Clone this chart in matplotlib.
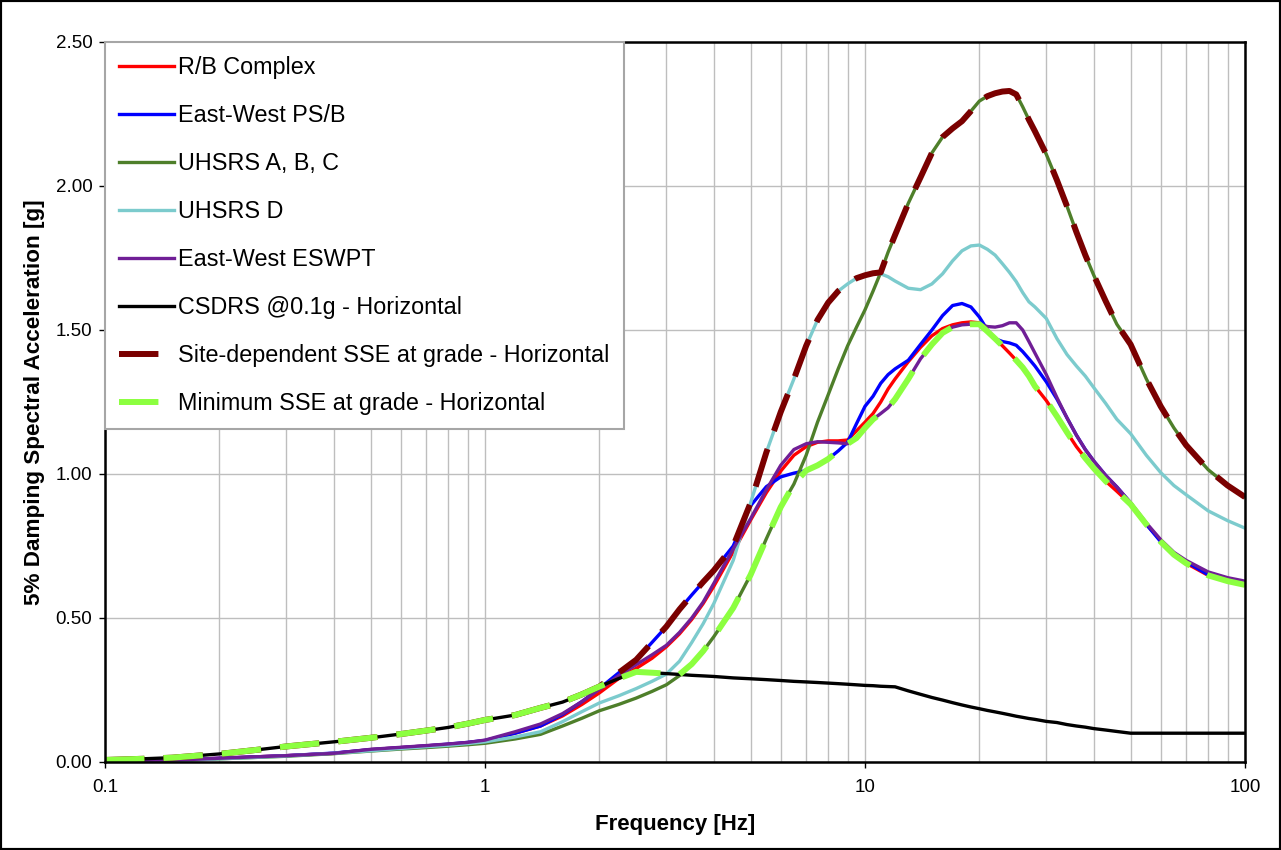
import matplotlib
matplotlib.use('Agg')
import matplotlib.pyplot as plt
from matplotlib.ticker import FixedLocator, NullFormatter, FixedFormatter
from matplotlib.patches import Rectangle

plt.rcParams['font.family'] = ['Liberation Sans', 'DejaVu Sans']

# frequency grid shared by every spectrum [Hz]
freq = [0.1, 0.125, 0.15, 0.2, 0.25, 0.3, 0.4, 0.5, 0.6, 0.7, 0.8, 0.9, 1.0,
        1.2, 1.4, 1.6, 1.8, 2.0,
        2.25, 2.5, 2.75, 3.0, 3.25, 3.5, 3.75, 4.0,
        4.5, 5.0, 5.5, 6.0, 6.5, 7.0, 7.5, 8.0, 8.5, 9.0, 9.5,
        10, 10.5, 11, 11.5, 12,
        13, 14, 15, 16, 17, 18, 19, 20, 21, 22, 23, 24, 25, 26, 27, 28,
        30, 32, 34, 36, 38, 40,
        43, 46, 50, 55, 60, 65, 70, 80, 90, 100]

rb_complex = [0.0, 0.003, 0.006, 0.013, 0.018, 0.022, 0.030, 0.043, 0.050, 0.056, 0.061, 0.067, 0.074,
              0.100, 0.125, 0.160, 0.200, 0.240,
              0.290, 0.325, 0.360, 0.400, 0.445, 0.495, 0.550, 0.610,
              0.730, 0.840, 0.935, 1.010, 1.065, 1.095, 1.110, 1.115, 1.115, 1.118, 1.150,
              1.180, 1.210, 1.250, 1.295, 1.330,
              1.390, 1.440, 1.480, 1.505, 1.518, 1.525, 1.528, 1.525, 1.495, 1.470, 1.445, 1.420, 1.395, 1.370, 1.340, 1.305,
              1.255, 1.200, 1.145, 1.095, 1.055, 1.020,
              0.975, 0.940, 0.895, 0.825, 0.770, 0.725, 0.690, 0.648, 0.628, 0.615]

ew_psb = [0.0, 0.003, 0.006, 0.013, 0.018, 0.022, 0.031, 0.043, 0.050, 0.056, 0.062, 0.068, 0.075,
          0.100, 0.125, 0.165, 0.210, 0.255,
          0.310, 0.355, 0.415, 0.470, 0.530, 0.580, 0.625, 0.665,
          0.750, 0.890, 0.956, 0.990, 1.003, 1.012, 1.030, 1.052, 1.080, 1.110, 1.175,
          1.235, 1.270, 1.315, 1.345, 1.365,
          1.395, 1.450, 1.500, 1.550, 1.585, 1.592, 1.580, 1.545, 1.500, 1.470, 1.460, 1.455, 1.447, 1.425, 1.400, 1.375,
          1.320, 1.260, 1.195, 1.135, 1.085, 1.045,
          0.995, 0.955, 0.900, 0.825, 0.765, 0.720, 0.695, 0.650, 0.632, 0.620]

uhsrs_abc = [0.0, 0.002, 0.004, 0.011, 0.016, 0.020, 0.029, 0.038, 0.045, 0.050, 0.055, 0.060, 0.065,
             0.080, 0.096, 0.125, 0.152, 0.178,
             0.200, 0.222, 0.245, 0.268, 0.300, 0.340, 0.385, 0.435,
             0.535, 0.650, 0.775, 0.885, 0.965, 1.065, 1.180, 1.275, 1.365, 1.445, 1.510,
             1.570, 1.635, 1.700, 1.770, 1.830,
             1.940, 2.030, 2.115, 2.170, 2.200, 2.225, 2.260, 2.295, 2.312, 2.322, 2.328, 2.330, 2.318, 2.275, 2.230, 2.190,
             2.110, 2.020, 1.930, 1.840, 1.760, 1.690,
             1.600, 1.520, 1.450, 1.330, 1.235, 1.160, 1.100, 1.015, 0.960, 0.920]

uhsrs_d = [0.0, 0.002, 0.004, 0.011, 0.016, 0.021, 0.030, 0.039, 0.047, 0.053, 0.058, 0.064, 0.070,
           0.087, 0.105, 0.140, 0.175, 0.205,
           0.230, 0.255, 0.280, 0.305, 0.350, 0.415, 0.480, 0.550,
           0.700, 0.900, 1.075, 1.215, 1.330, 1.445, 1.535, 1.595, 1.635, 1.660, 1.680,
           1.690, 1.697, 1.695, 1.685, 1.670,
           1.645, 1.640, 1.660, 1.695, 1.740, 1.775, 1.792, 1.795, 1.780, 1.760, 1.730, 1.700, 1.668, 1.630, 1.598, 1.580,
           1.540, 1.470, 1.415, 1.375, 1.340, 1.300,
           1.245, 1.190, 1.140, 1.065, 1.005, 0.960, 0.928, 0.872, 0.838, 0.812]

ew_eswpt = [0.0, 0.003, 0.006, 0.013, 0.018, 0.022, 0.030, 0.044, 0.051, 0.057, 0.0625, 0.068, 0.076,
            0.105, 0.132, 0.168, 0.210, 0.252,
            0.300, 0.338, 0.372, 0.405, 0.450, 0.500, 0.555, 0.620,
            0.740, 0.845, 0.945, 1.030, 1.085, 1.105, 1.112, 1.110, 1.108, 1.105, 1.125,
            1.160, 1.190, 1.210, 1.230, 1.260,
            1.330, 1.400, 1.450, 1.490, 1.510, 1.518, 1.520, 1.520, 1.512, 1.510, 1.515, 1.525, 1.525, 1.500, 1.460, 1.420,
            1.345, 1.265, 1.195, 1.135, 1.085, 1.045,
            0.995, 0.955, 0.900, 0.830, 0.772, 0.728, 0.700, 0.660, 0.640, 0.628]

csdrs = [0.007, 0.011, 0.015, 0.028, 0.042, 0.054, 0.070, 0.084, 0.097, 0.109, 0.120, 0.133, 0.146,
         0.163, 0.188, 0.208, 0.235, 0.262,
         0.290, 0.313, 0.310, 0.307, 0.304, 0.301, 0.299, 0.297,
         0.292, 0.289, 0.286, 0.283, 0.280, 0.278, 0.276, 0.274, 0.272, 0.270, 0.268,
         0.266, 0.265, 0.263, 0.262, 0.261,
         0.247, 0.235, 0.224, 0.215, 0.206, 0.198, 0.191, 0.185, 0.179, 0.174, 0.169, 0.164, 0.159, 0.155, 0.151, 0.148,
         0.141, 0.137, 0.130, 0.125, 0.121, 0.116,
         0.111, 0.106, 0.100, 0.100, 0.100, 0.100, 0.100, 0.100, 0.100, 0.100]

sse_site = [0.007, 0.011, 0.015, 0.028, 0.042, 0.054, 0.070, 0.084, 0.097, 0.109, 0.120, 0.133, 0.146,
            0.163, 0.188, 0.208, 0.235, 0.262,
            0.310, 0.355, 0.415, 0.470, 0.530, 0.580, 0.625, 0.665,
            0.750, 0.900, 1.075, 1.215, 1.330, 1.445, 1.535, 1.595, 1.635, 1.660, 1.680,
            1.690, 1.697, 1.700, 1.770, 1.830,
            1.940, 2.030, 2.115, 2.170, 2.200, 2.225, 2.260, 2.295, 2.312, 2.322, 2.328, 2.330, 2.318, 2.275, 2.230, 2.190,
            2.110, 2.020, 1.930, 1.840, 1.760, 1.690,
            1.600, 1.520, 1.450, 1.330, 1.235, 1.160, 1.100, 1.015, 0.960, 0.920]

sse_min = [0.007, 0.011, 0.015, 0.028, 0.042, 0.054, 0.070, 0.084, 0.097, 0.109, 0.120, 0.133, 0.146,
           0.163, 0.188, 0.208, 0.235, 0.262,
           0.290, 0.313, 0.310, 0.307, 0.304, 0.340, 0.385, 0.435,
           0.535, 0.650, 0.775, 0.885, 0.965, 1.012, 1.030, 1.052, 1.080, 1.105, 1.125,
           1.160, 1.190, 1.210, 1.230, 1.260,
           1.330, 1.400, 1.450, 1.490, 1.510, 1.518, 1.520, 1.520, 1.495, 1.470, 1.445, 1.420, 1.395, 1.370, 1.340, 1.305,
           1.255, 1.200, 1.145, 1.095, 1.055, 1.020,
           0.975, 0.940, 0.895, 0.825, 0.765, 0.720, 0.690, 0.648, 0.628, 0.615]

labels = ['R/B Complex', 'East-West PS/B', 'UHSRS A, B, C', 'UHSRS D',
          'East-West ESWPT', 'CSDRS @0.1g - Horizontal',
          'Site-dependent SSE at grade - Horizontal',
          'Minimum SSE at grade - Horizontal']

fig = plt.figure(figsize=(12.81, 8.5), dpi=100)
ax = fig.add_axes([105/1281, 88/850, 1140/1281, 720/850])

solid_lw = 2.4
dash_lw = 4.3
dash_pat = (6.6, 3.2)

ax.plot(freq, rb_complex, color='#FF0000', lw=solid_lw, label=labels[0])
ax.plot(freq, ew_psb, color='#0000FF', lw=solid_lw, label=labels[1])
ax.plot(freq, uhsrs_abc, color='#4E7F2A', lw=solid_lw, label=labels[2])
ax.plot(freq, uhsrs_d, color='#7CCBCD', lw=solid_lw, label=labels[3])
ax.plot(freq, ew_eswpt, color='#701E96', lw=solid_lw, label=labels[4])
ax.plot(freq, csdrs, color='black', lw=solid_lw, label=labels[5])
ax.plot(freq, sse_site, color='#7A0000', lw=dash_lw, dashes=dash_pat, label=labels[6])
ax.plot(freq, sse_min, color='#8CFF40', lw=dash_lw, dashes=dash_pat, label=labels[7])

ax.set_xscale('log')
ax.set_xlim(0.1, 100)
ax.set_ylim(0, 2.5)

# axis ticks / grid
ax.xaxis.set_major_locator(FixedLocator([0.1, 1, 10, 100]))
ax.xaxis.set_major_formatter(FixedFormatter(['0.1', '1', '10', '100']))
minors = [m * d for d in [0.1, 1, 10] for m in range(2, 10)]
ax.xaxis.set_minor_locator(FixedLocator(minors))
ax.xaxis.set_minor_formatter(NullFormatter())
ax.set_yticks([0, 0.5, 1.0, 1.5, 2.0, 2.5])
ax.set_yticklabels(['%.2f' % v for v in [0, 0.5, 1.0, 1.5, 2.0, 2.5]])
ax.tick_params(axis='both', which='major', direction='out', length=4, width=1,
               labelsize=13.5, colors='black')
ax.tick_params(axis='x', which='major', pad=8)
ax.tick_params(axis='y', which='major', pad=5)
ax.tick_params(axis='x', which='minor', length=0)
ax.grid(True, which='both', axis='x', color='#BEBEBE', lw=1)
ax.grid(True, which='major', axis='y', color='#BEBEBE', lw=1)
ax.set_axisbelow(True)

for s in ax.spines.values():
    s.set_color('black')
    s.set_linewidth(1.8)

ax.set_xlabel('Frequency [Hz]', fontsize=16, fontweight='bold', labelpad=13)
ax.set_ylabel('5% Damping Spectral Acceleration [g]', fontsize=16.2, fontweight='bold', labelpad=8)

leg = ax.legend(loc='upper left', fontsize=16.8, frameon=True, fancybox=False,
                borderaxespad=0, borderpad=0.6, labelspacing=1.07,
                handlelength=2.35, handletextpad=0.2, framealpha=1)
leg.get_frame().set_edgecolor('#A6A6A6')
leg.get_frame().set_linewidth(1.5)
for ln in leg.get_lines()[6:]:
    ln.set_dashes(dash_pat)

# outer border of the chart
fig.patches.append(Rectangle((0, 0), 1, 1, transform=fig.transFigure,
                             fill=False, edgecolor='black', lw=3))

fig.savefig('out.png', dpi=100)
